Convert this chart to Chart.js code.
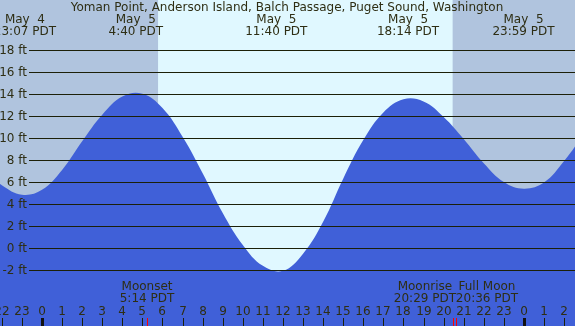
<!DOCTYPE html>
<html>
<head>
<meta charset="utf-8">
<script src="https://cdn.jsdelivr.net/npm/chart.js@4/dist/chart.umd.min.js"></script>
<style>
  html, body { margin:0; padding:0; background:#b0c4de; }
  #wrap { width:575px; height:326px; position:relative; }
</style>
</head>
<body>
<div id="wrap"><canvas id="tide"></canvas></div>
<script>
// hourly tide heights (ft), hours counted from May 5 00:00 PDT
const hours   = [-3, -2, -1, 0, 1, 2, 3, 4, 5, 6, 7, 8, 9, 10, 11, 12, 13, 14, 15,
                 16, 17, 18, 19, 20, 21, 22, 23, 24, 25, 26, 27];
const heights = [7.2, 5.7, 4.85, 5.3, 7.1, 9.7, 12.1, 13.75, 14.0, 12.7, 10.1, 6.8, 3.2, 0.3, -1.6, -2.05, -0.5, 2.4, 6.3,
                 9.8, 12.3, 13.5, 13.3, 11.9, 9.9, 7.7, 6.0, 5.4, 5.95, 7.9, 10.4];

const yTicks = [18, 16, 14, 12, 10, 8, 6, 4, 2, 0, -2];
const hourTicks = [-2, -1, 0, 1, 2, 3, 4, 5, 6, 7, 8, 9, 10, 11, 12, 13, 14, 15, 16, 17, 18, 19, 20, 21, 22, 23, 24, 25, 26];

const daylight = [5.78, 20.45];   // sunrise, sunset

const extremeHours = [-0.85, 4.67, 11.67, 18.23, 23.98];
const extremeDays  = ['May  4', 'May  5', 'May  5', 'May  5', 'May  5'];
const extremeTimes = ['23:07 PDT', '4:40 PDT', '11:40 PDT', '18:14 PDT', '23:59 PDT'];

const moonHours  = [5.23, 20.48, 20.6];
const moonLabels = [['Moonset', '5:14 PDT', 5.23], ['Moonrise', '20:29 PDT', 19.07], ['Full Moon', '20:36 PDT', 22.16]];

const title = 'Yoman Point, Anderson Island, Balch Passage, Puget Sound, Washington';

const FONT = '12px "DejaVu Sans"';
const TXT = '#2e2e14';

const backdrop = {
  id:'backdrop',
  beforeDatasetsDraw(chart) {
    const { ctx, chartArea:a, scales:{x} } = chart;
    ctx.save();
    ctx.fillStyle = '#b0c4de';
    ctx.fillRect(a.left, a.top, a.right - a.left, a.bottom - a.top);
    const x0 = x.getPixelForValue(daylight[0]), x1 = x.getPixelForValue(daylight[1]);
    ctx.fillStyle = '#e0f8ff';
    ctx.fillRect(x0, a.top, x1 - x0, a.bottom - a.top);
    ctx.restore();
  }
};

const overlay = {
  id:'overlay',
  afterDatasetsDraw(chart) {
    const { ctx, chartArea:a, scales:{x, y} } = chart;
    ctx.save();
    ctx.font = FONT;
    ctx.textBaseline = 'middle';

    // horizontal lines + ft labels
    yTicks.forEach(v => {
      const py = Math.round(y.getPixelForValue(v)) + 0.5;
      ctx.strokeStyle = '#1c2008';
      ctx.lineWidth = 1;
      ctx.beginPath(); ctx.moveTo(29, py); ctx.lineTo(a.right, py); ctx.stroke();
      ctx.fillStyle = TXT;
      ctx.textAlign = 'right';
      ctx.fillText(v + ' ft', 27, py);
    });

    // hour ticks
    ctx.textAlign = 'center';
    hourTicks.forEach(h => {
      const px = Math.round(x.getPixelForValue(h));
      const lab = ((h % 24) + 24) % 24;
      ctx.fillStyle = TXT;
      ctx.fillText(String(lab), px, 312);
      if (lab === 0) {
        ctx.fillStyle = '#111';
        ctx.fillRect(px - 1, 318, 3, 8);
      } else {
        ctx.fillStyle = '#1c2008';
        ctx.fillRect(px, 318, 1, 8);
      }
    });

    // moon event ticks
    ctx.fillStyle = '#ff0000';
    moonHours.forEach(h => {
      ctx.fillRect(Math.round(x.getPixelForValue(h)), 318, 1, 8);
    });
    ctx.fillStyle = TXT;
    moonLabels.forEach(([l1, l2, h]) => {
      const px = x.getPixelForValue(h);
      ctx.fillText(l1, px, 287);
      ctx.fillText(l2, px, 299);
    });

    // extremes header
    extremeHours.forEach((h, i) => {
      const px = x.getPixelForValue(h);
      ctx.fillText(extremeDays[i], px, 20);
      ctx.fillText(extremeTimes[i], px, 32);
    });

    ctx.fillText(title, 287, 8);
    ctx.restore();
  }
};

new Chart(document.getElementById('tide'), {
  type:'line',
  data:{
    datasets:[{
      data: hours.map((h, i) => ({ x:h, y:heights[i] })),
      backgroundColor:'#4060d8',
      borderWidth:0,
      pointRadius:0,
      fill:'start',
      tension:0.4
    }]
  },
  options:{
    responsive:true, maintainAspectRatio:false, animation:false,
    layout:{ padding:0 },
    plugins:{ legend:{ display:false }, tooltip:{ enabled:false } },
    scales:{
      x:{ type:'linear', min:-2.092, max:26.544, display:false },
      y:{ type:'linear', min:-7.05, max:22.5, display:false }
    }
  },
  plugins:[backdrop, overlay]
});
</script>
</body>
</html>
